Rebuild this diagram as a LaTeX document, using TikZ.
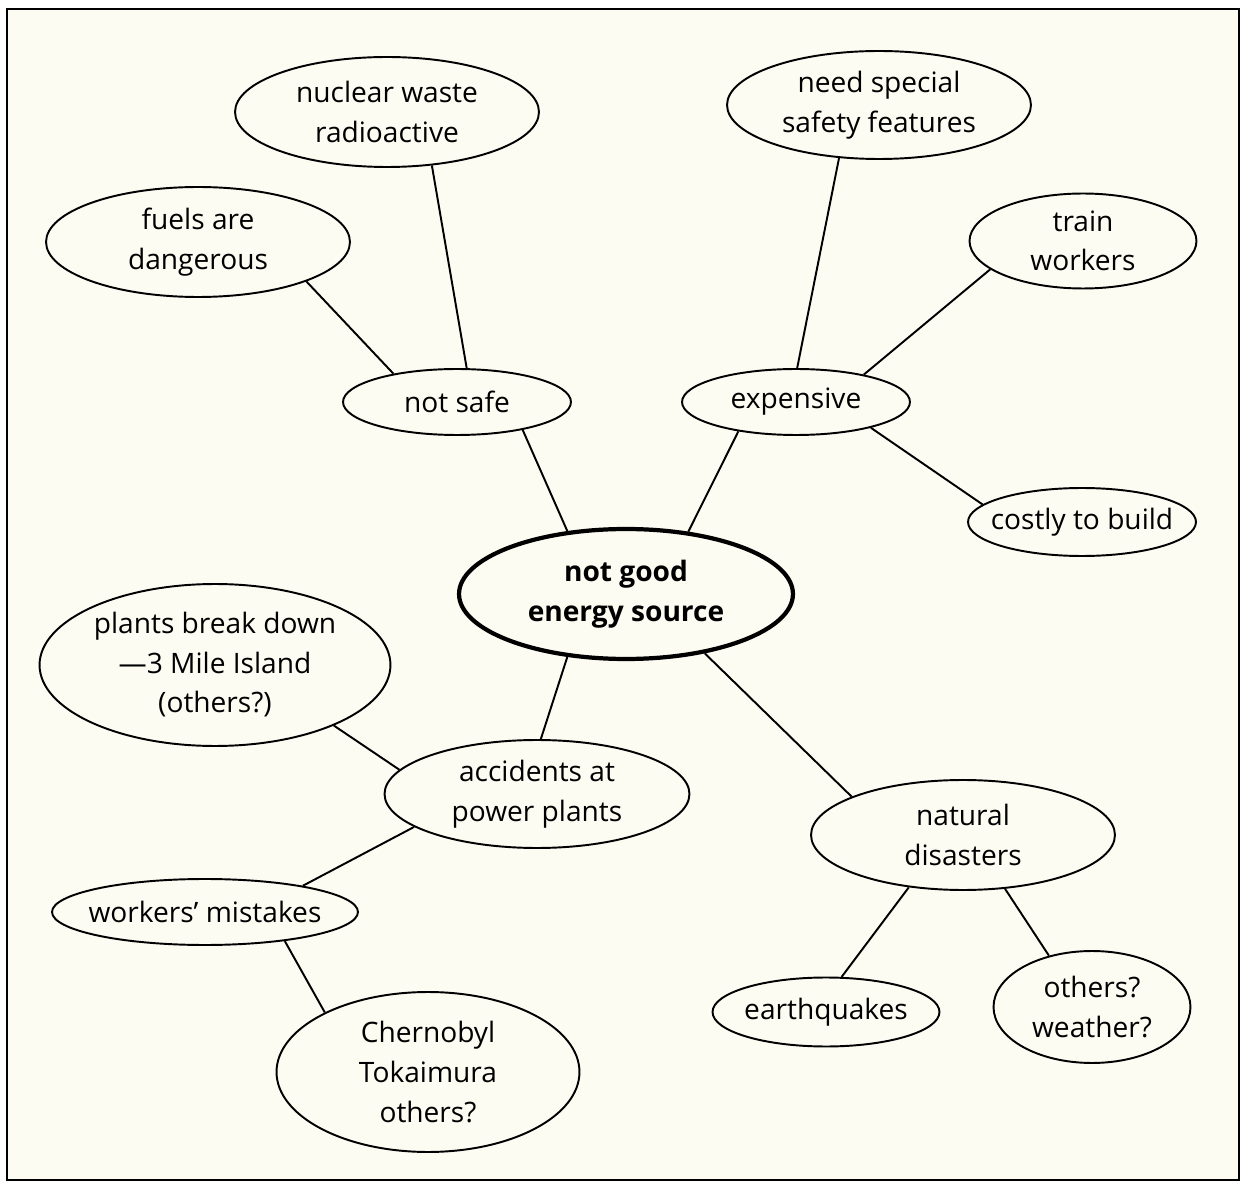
\documentclass[tikz,border=0pt]{standalone}
\usepackage{fontspec}
\setmainfont{Open Sans}
\usetikzlibrary{shapes.geometric}
\definecolor{paper}{HTML}{FCFCF3}
\tikzset{
  bub/.style={ellipse, draw=black, line width=1.1pt, inner ysep=0pt, inner xsep=-0.5cm, align=center,
    font=\fontsize{16}{22.5}\selectfont},
  core/.style={bub, line width=2.4pt, font=\fontsize{16}{22.5}\selectfont\bfseries},
  link/.style={line width=1.1pt}
}
\begin{document}
\begin{tikzpicture}[x=0.02cm,y=-0.02cm]
\useasboundingbox (0,0) rectangle (1242,1182);
\fill[white] (0,0) rectangle (1242,1182);
\draw[line width=1.1pt, fill=paper] (7,9) rectangle (1239,1180);

\node[bub, minimum width=6.08cm, minimum height=2.2cm] (nuc) at (387,112) {nuclear waste\\radioactive};
\node[bub, minimum width=6.08cm, minimum height=2.2cm] (fuel) at (198,242) {fuels are\\dangerous};
\node[bub, minimum width=6.08cm, minimum height=2.16cm] (need) at (879,105) {need special\\safety features};
\node[bub, minimum width=4.54cm, minimum height=1.9cm] (train) at (1083,241) {train\\workers};
\node[bub, minimum width=4.56cm, minimum height=1.32cm] (ns) at (457,402) {not safe};
\node[bub, minimum width=4.56cm, minimum height=1.32cm] (exp) at (796,402) {expensive};
\node[bub, minimum width=4.56cm, minimum height=1.36cm] (cost) at (1082,522) {costly to build};
\node[core, minimum width=6.68cm, minimum height=2.6cm] (core) at (626,594) {not good\\energy source};
\node[bub, minimum width=7.02cm, minimum height=3.24cm] (plants) at (215,665) {plants break down\\—3 Mile Island\\(others?)};
\node[bub, minimum width=6.1cm, minimum height=2.16cm] (acc) at (537,794) {accidents at\\power plants};
\node[bub, minimum width=6.08cm, minimum height=2.2cm] (nat) at (963,835) {natural\\disasters};
\node[bub, minimum width=6.12cm, minimum height=1.32cm] (work) at (205,912) {workers’ mistakes};
\node[bub, minimum width=6.06cm, minimum height=3.2cm] (cher) at (428,1072) {Chernobyl\\Tokaimura\\others?};
\node[bub, minimum width=4.54cm, minimum height=1.38cm] (eq) at (826,1012) {earthquakes};
\node[bub, minimum width=3.94cm, minimum height=2.24cm] (oth) at (1092,1007) {others?\\weather?};

\draw[link] (ns.156.8) -- (fuel.340);
\draw[link] (ns.74.3) -- (nuc.310.5);
\draw[link] (ns.337) -- (core.133);
\draw[link] (exp.88) -- (need.233.3);
\draw[link] (exp.22.8) -- (train.197);
\draw[link] (exp.341.4) -- (cost.170.1);
\draw[link] (exp.207.6) -- (core.45.5);
\draw[link] (core.227.8) -- (acc.86.7);
\draw[link] (core.323.9) -- (nat.161.7);
\draw[link] (acc.170) -- (plants.333.6);
\draw[link] (acc.195) -- (work.15.4);
\draw[link] (work.340.6) -- (cher.150.5);
\draw[link] (nat.224) -- (eq.66);
\draw[link] (nat.308.5) -- (oth.130.6);
\end{tikzpicture}
\end{document}
